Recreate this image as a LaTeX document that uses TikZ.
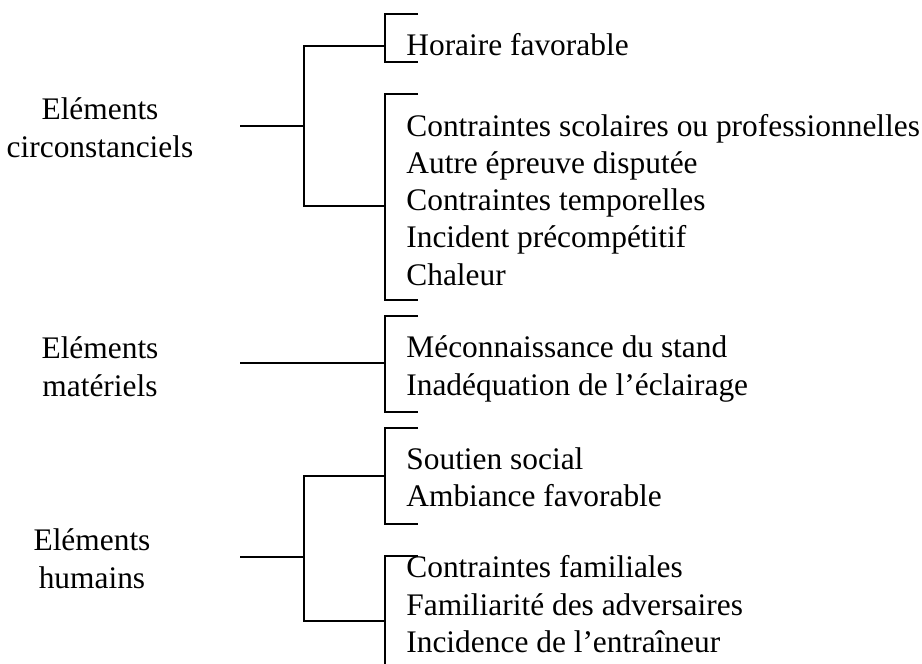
\documentclass[tikz,border=0pt]{standalone}
\usepackage{fontspec}
\setmainfont{Liberation Serif}
\colorlet{background}{white}
\colorlet{penColor}{black}
\tikzset{
  item/.style={anchor=base west,inner sep=0pt,text=penColor,font=\fontsize{15.7}{19}\selectfont},
  group/.style={anchor=base,align=center,inner sep=0pt,text=penColor,font=\fontsize{15.7}{19}\selectfont},
  brace/.style={penColor,line width=1pt}
}
\begin{document}
\begin{tikzpicture}[x=0.5pt,y=-0.5pt]
\useasboundingbox[fill=background] (0,0) rectangle (922,664);
% joints of the tree
\coordinate (circR) at (240,126);
\coordinate (circS) at (304,126);
\coordinate (matR) at (240,363);
\coordinate (humR) at (240,557);
\coordinate (humS) at (304,557);
\coordinate (aTop) at (385,14);   \coordinate (aBot) at (385,62);   \coordinate (aJoin) at (385,46);
\coordinate (bTop) at (385,94);   \coordinate (bBot) at (385,300);  \coordinate (bJoin) at (385,206);
\coordinate (cTop) at (385,316);  \coordinate (cBot) at (385,412);  \coordinate (cJoin) at (385,363);
\coordinate (dTop) at (385,428);  \coordinate (dBot) at (385,524);  \coordinate (dJoin) at (385,476);
\coordinate (eTop) at (385,556);  \coordinate (eBot) at (385,664);  \coordinate (eJoin) at (385,621);

% left labels (anchored on the second line)
\node[group] (circ) at (100,157) {Eléments\\circonstanciels};
\node[group] (mat) at (100,396) {Eléments\\matériels};
\node[group] (hum) at (92,588) {Eléments\\humains};

% brackets
\draw[brace] (aTop) +(33,0) -- (aTop) -- (aBot) -- +(33,0);
\draw[brace] (bTop) +(33,0) -- (bTop) -- (bBot) -- +(33,0);
\draw[brace] (cTop) +(33,0) -- (cTop) -- (cBot) -- +(33,0);
\draw[brace] (dTop) +(33,0) -- (dTop) -- (dBot) -- +(33,0);
\draw[brace] (eTop) +(33,0) -- (eTop) -- (eBot);

% branches
\draw[brace] (circR) -- (circS);
\draw[brace] (aJoin) -| (circS) |- (bJoin);
\draw[brace] (matR) -- (cJoin);
\draw[brace] (humR) -- (humS);
\draw[brace] (dJoin) -| (humS) |- (eJoin);

% items
\node[item] (horaire) at (406,55) {Horaire favorable};
\node[item] (scol) at (406,136) {Contraintes scolaires ou professionnelles};
\node[item] (autre) at (406,173) {Autre épreuve disputée};
\node[item] (temp) at (406,210) {Contraintes temporelles};
\node[item] (incid) at (406,247) {Incident précompétitif};
\node[item] (chal) at (406,285) {Chaleur};
\node[item] (mecon) at (406,357) {Méconnaissance du stand};
\node[item] (inad) at (406,395) {Inadéquation de l’éclairage};
\node[item] (sout) at (406,469) {Soutien social};
\node[item] (amb) at (406,506) {Ambiance favorable};
\node[item] (fam) at (406,577) {Contraintes familiales};
\node[item] (adv) at (406,615) {Familiarité des adversaires};
\node[item] (entr) at (406,652) {Incidence de l’entraîneur};
\end{tikzpicture}
\end{document}
